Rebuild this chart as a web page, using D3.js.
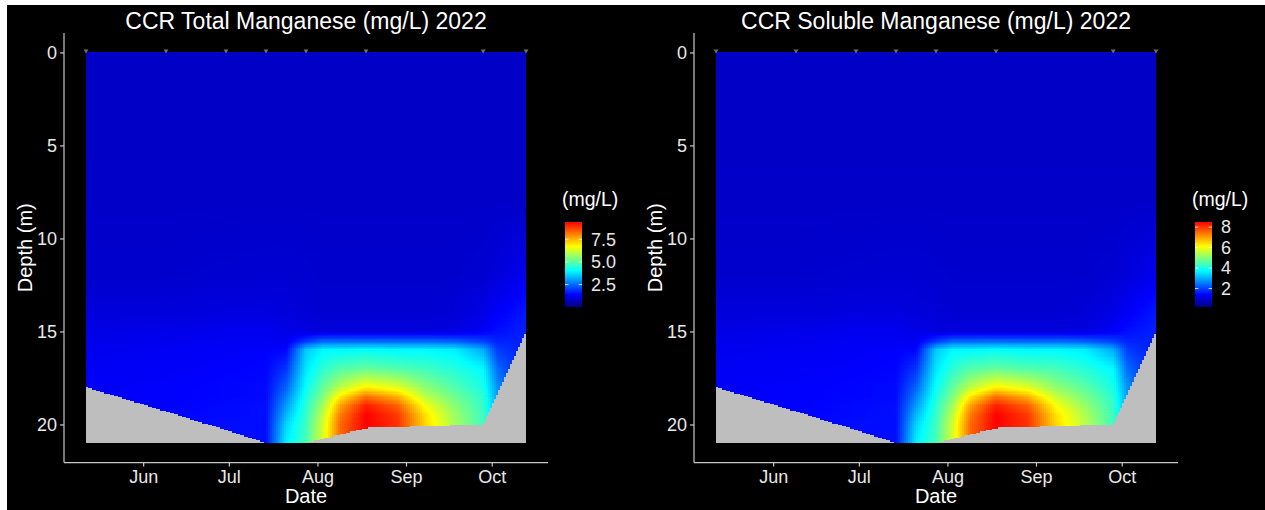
<!DOCTYPE html>
<html><head><meta charset="utf-8">
<script src="https://cdn.jsdelivr.net/npm/d3@7"></script>
<style>
html,body{margin:0;padding:0;background:#000;}
svg{display:block;}
text{font-family:"Liberation Sans", Arial, Helvetica, sans-serif;}
</style></head><body>
<svg id="chart" width="1265" height="510"></svg>
<script>
// ---------- DATA ----------
// sampling dates (marked at the surface) and deepest sampled depth (m) on each
const sampleDates = ["2022-05-12","2022-06-09","2022-06-30","2022-07-14","2022-07-28","2022-08-18","2022-09-28","2022-10-13"];
const bottomDepth = [18, 19.3, 20.3, 21, 21, 20.2, 20, 15];
const monthTicks = ["2022-06-01","2022-07-01","2022-08-01","2022-09-01","2022-10-01"];
const depthTicks = [0, 5, 10, 15, 20];

const gridDates = ["2022-05-12","2022-06-09","2022-06-30","2022-07-14","2022-07-21","2022-07-28","2022-08-03","2022-08-09","2022-08-18","2022-08-29","2022-09-08","2022-09-18","2022-09-28","2022-10-03","2022-10-13"];
const gridDepths = [0, 4, 8, 12, 14, 15, 15.5, 16, 17, 18, 18.5, 19, 19.5, 20, 21];

// Total Mn (mg/L): rows = gridDepths, cols = gridDates
const totalMn = [
  [0.78,0.78,0.78,0.78,0.78,0.78,0.78,0.78,0.78,0.78,0.78,0.78,0.78,0.78,0.78],
  [0.78,0.78,0.78,0.78,0.78,0.78,0.78,0.78,0.78,0.78,0.78,0.78,0.78,0.78,0.78],
  [0.80,0.80,0.80,0.80,0.80,0.80,0.80,0.80,0.80,0.80,0.80,0.80,0.80,0.80,0.80],
  [0.85,0.85,0.88,0.90,0.90,0.88,0.85,0.85,0.85,0.85,0.85,0.85,0.90,1.00,1.20],
  [1.00,1.00,1.05,1.05,1.00,0.95,0.90,0.90,0.90,0.90,0.90,0.95,1.10,1.30,1.60],
  [1.10,1.15,1.20,1.20,1.15,1.05,1.00,1.00,1.00,1.00,1.00,1.05,1.30,1.50,1.70],
  [1.15,1.20,1.25,1.25,1.20,1.90,2.40,2.40,2.40,2.40,2.40,2.30,2.00,1.70,1.70],
  [1.20,1.25,1.30,1.35,1.40,3.50,4.00,4.00,4.10,4.00,4.00,3.90,3.20,2.00,1.60],
  [1.25,1.30,1.35,1.40,1.90,3.80,4.50,4.90,5.10,4.90,4.70,4.40,4.00,2.50,1.50],
  [1.30,1.35,1.40,1.45,2.40,4.10,5.10,6.00,6.80,6.40,5.50,4.90,4.30,2.90,1.50],
  [1.30,1.35,1.40,1.45,2.70,4.30,5.40,6.90,8.20,7.50,6.00,5.20,4.50,3.00,1.50],
  [1.30,1.35,1.45,1.50,3.00,4.50,5.80,7.70,9.10,8.40,6.60,5.50,4.60,3.10,1.50],
  [1.30,1.40,1.45,1.50,3.30,4.60,6.10,8.10,9.40,8.80,7.00,5.70,4.70,3.10,1.50],
  [1.30,1.40,1.50,1.50,3.60,4.70,6.30,8.30,9.40,8.90,7.10,5.80,4.70,3.10,1.50],
  [1.30,1.40,1.50,1.50,3.90,4.80,6.40,8.30,9.40,8.90,7.10,5.80,4.70,3.10,1.50]
];
const totalLimits = [0.03, 9.4];
const totalTicks = [2.5, 5.0, 7.5];

// Soluble Mn (mg/L)
const solubleMn = [
  [0.86,0.86,0.86,0.86,0.86,0.86,0.86,0.86,0.86,0.86,0.86,0.86,0.86,0.86,0.86],
  [0.86,0.86,0.86,0.86,0.86,0.86,0.86,0.86,0.86,0.86,0.86,0.86,0.86,0.86,0.86],
  [0.88,0.88,0.88,0.88,0.88,0.88,0.88,0.88,0.88,0.88,0.88,0.88,0.88,0.88,0.88],
  [0.93,0.93,0.95,0.97,0.97,0.95,0.93,0.93,0.93,0.93,0.93,0.93,0.97,1.06,1.24],
  [1.06,1.06,1.10,1.10,1.06,1.02,0.97,0.97,0.97,0.97,0.97,1.02,1.15,1.32,1.59],
  [1.15,1.19,1.24,1.24,1.19,1.10,1.06,1.06,1.06,1.06,1.06,1.10,1.32,1.50,1.68],
  [1.19,1.24,1.28,1.28,1.24,1.86,2.30,2.30,2.30,2.30,2.30,2.21,1.95,1.68,1.68],
  [1.24,1.28,1.32,1.37,1.41,3.27,3.72,3.72,3.81,3.72,3.72,3.63,3.01,1.95,1.59],
  [1.28,1.32,1.37,1.41,1.86,3.54,4.16,4.51,4.69,4.51,4.40,4.10,3.72,2.39,1.50],
  [1.32,1.37,1.41,1.46,2.30,3.81,4.69,5.49,6.20,5.84,5.10,4.60,3.98,2.74,1.50],
  [1.32,1.37,1.41,1.46,2.57,3.98,4.96,6.29,7.44,6.82,5.60,4.90,4.16,2.83,1.50],
  [1.32,1.37,1.46,1.50,2.83,4.16,5.31,7.00,8.23,7.62,6.10,5.20,4.25,2.92,1.50],
  [1.32,1.41,1.46,1.50,3.10,4.25,5.58,7.35,8.50,7.97,6.40,5.40,4.34,2.92,1.50],
  [1.32,1.41,1.50,1.50,3.36,4.34,5.75,7.53,8.50,8.06,6.50,5.50,4.34,2.92,1.50],
  [1.32,1.41,1.50,1.50,3.63,4.43,5.84,7.53,8.50,8.06,6.50,5.50,4.34,2.92,1.50]
];
const solubleLimits = [0.2, 8.5];
const solubleTicks = [2, 4, 6, 8];

const jetColors = ["#00007F","#0000FF","#007FFF","#00FFFF","#7FFF7F","#FFFF00","#FF7F00","#FF0000"];
const naColor = "#BEBEBE";

// ---------- DRAW ----------
const parse = d3.timeParse("%Y-%m-%d");
const dates = sampleDates.map(parse);
const dateMs = dates.map(d => +d);
const gridMs = gridDates.map(s => +parse(s));
const svg = d3.select("#chart");
svg.append("rect").attr("width",1265).attr("height",510).attr("fill","#000");
svg.append("rect").attr("x",0).attr("y",0).attr("width",1265).attr("height",5).attr("fill","#fff");
svg.append("rect").attr("x",0).attr("y",0).attr("width",7).attr("height",510).attr("fill","#fff");

function locate(arr, v) {
  let i = d3.bisectRight(arr, v) - 1;
  i = Math.max(0, Math.min(arr.length - 2, i));
  const f = Math.max(0, Math.min(1, (v - arr[i]) / (arr[i+1] - arr[i])));
  return [i, f];
}
function bilinear(t, d, grid) {
  const [i, fx] = locate(gridMs, t);
  const [j, fy] = locate(gridDepths, d);
  const a = grid[j][i]*(1-fx) + grid[j][i+1]*fx;
  const b = grid[j+1][i]*(1-fx) + grid[j+1][i+1]*fx;
  return a*(1-fy) + b*fy;
}
function bottomAt(t) {
  const [i, f] = locate(dateMs, t);
  return bottomDepth[i]*(1-f) + bottomDepth[i+1]*f;
}

function drawPanel(off, title, grid, limits, ticks, fmt) {
  const g = svg.append("g").attr("transform", `translate(${off},0)`);
  const t0 = dateMs[0], t1 = dateMs[dateMs.length-1], span = t1 - t0;
  const x = d3.scaleTime().domain([new Date(t0 - 0.05*span), new Date(t1 + 0.05*span)]).range([64, 548]);
  const dMax = d3.max(gridDepths);
  const y = d3.scaleLinear().domain([-0.05*dMax, dMax*1.05]).range([32.9, 462.6]);
  const stops = jetColors.map((c,k) => limits[0] + k*(limits[1]-limits[0])/(jetColors.length-1));
  const color = d3.scaleLinear().domain(stops).range(jetColors).interpolate(d3.interpolateRgb).clamp(true);

  // raster (vertical runs of equal colour merged)
  const nx = 220, ny = 300;
  const dt = span / nx, dd = dMax / ny;
  const runs = [];
  for (let i = 0; i < nx; i++) {
    const tc = t0 + (i + 0.5)*dt;
    const bot = bottomAt(tc);
    let start = 0, fill = null;
    for (let j = 0; j <= ny; j++) {
      let f = null;
      if (j < ny) {
        const dc = (j + 0.5)*dd;
        f = dc > bot ? naColor : color(bilinear(tc, dc, grid));
      }
      if (f !== fill) {
        if (fill !== null) runs.push({i, j0: start, j1: j, fill});
        start = j; fill = f;
      }
    }
  }
  g.append("g").selectAll("rect").data(runs).join("rect")
    .attr("x", c => x(new Date(t0 + c.i*dt)))
    .attr("y", c => y(c.j0*dd))
    .attr("width", c => x(new Date(t0 + (c.i+1)*dt)) - x(new Date(t0 + c.i*dt)) + 0.35)
    .attr("height", c => y(c.j1*dd) - y(c.j0*dd) + 0.35)
    .attr("fill", c => c.fill)
    .attr("shape-rendering","crispEdges");

  // sample markers at surface
  g.append("g").selectAll("path").data(dates).join("path")
    .attr("d", d => { const px = x(d), py = y(0); return `M${px-2.5},${py-3}L${px+2.5},${py-3}L${px},${py+1}Z`; })
    .attr("fill", "#6E6E6E");

  // axes
  const axisColor = "#C8C8C8", textColor = "#E8E8E8";
  const xAxis = g.append("g").attr("transform", `translate(0,${y.range()[1]})`)
    .call(d3.axisBottom(x).tickValues(monthTicks.map(parse)).tickFormat(d3.timeFormat("%b")).tickSize(4).tickPadding(4));
  const yAxis = g.append("g").attr("transform", `translate(${x.range()[0]},0)`)
    .call(d3.axisLeft(y).tickValues(depthTicks).tickSize(4).tickPadding(3));
  [xAxis, yAxis].forEach(a => {
    a.select(".domain").attr("stroke", axisColor).attr("stroke-width", 1.2);
    a.selectAll(".tick line").attr("stroke", axisColor).attr("stroke-width", 1.2);
    a.selectAll(".tick text").attr("fill", textColor).attr("font-size", 18)
      .style("font-family", '"Liberation Sans", Arial, sans-serif');
  });
  xAxis.select(".domain").attr("d", `M${x.range()[0]},0H${x.range()[1]}`);
  yAxis.select(".domain").attr("d", `M0,${y.range()[0]}V${y.range()[1]}`);

  // titles
  g.append("text").attr("x", (x.range()[0]+x.range()[1])/2).attr("y", 29)
    .attr("text-anchor","middle").attr("fill","#FFFFFF").attr("font-size", 23).text(title);
  g.append("text").attr("x", (x.range()[0]+x.range()[1])/2).attr("y", 503)
    .attr("text-anchor","middle").attr("fill","#FFFFFF").attr("font-size", 20).text("Date");
  g.append("text").attr("transform", `translate(32,${(y.range()[0]+y.range()[1])/2}) rotate(-90)`)
    .attr("text-anchor","middle").attr("fill","#FFFFFF").attr("font-size", 20).text("Depth (m)");

  // legend
  const lx = 565, lw = 17;
  const ly = d3.scaleLinear().domain(limits).range([307, 222]);
  const nb = 85;
  const bins = d3.range(nb).map(k => limits[0] + (k + 0.5)*(limits[1]-limits[0])/nb);
  g.append("g").selectAll("rect").data(bins).join("rect")
    .attr("x", lx).attr("width", lw)
    .attr("y", (v,k) => ly(limits[0] + (k+1)*(limits[1]-limits[0])/nb))
    .attr("height", (v,k) => ly(limits[0] + k*(limits[1]-limits[0])/nb) - ly(limits[0] + (k+1)*(limits[1]-limits[0])/nb) + 0.4)
    .attr("fill", v => color(v)).attr("shape-rendering","crispEdges");
  const tg = g.append("g");
  ticks.forEach(tv => {
    tg.append("line").attr("x1", lx).attr("x2", lx+3.4).attr("y1", ly(tv)).attr("y2", ly(tv)).attr("stroke","#fff").attr("stroke-width",0.8);
    tg.append("line").attr("x1", lx+lw-3.4).attr("x2", lx+lw).attr("y1", ly(tv)).attr("y2", ly(tv)).attr("stroke","#fff").attr("stroke-width",0.8);
    tg.append("text").attr("x", lx+lw+9).attr("y", ly(tv)).attr("dy","0.35em")
      .attr("fill", textColor).attr("font-size", 18).text(fmt(tv));
  });
  g.append("text").attr("x", 562).attr("y", 206).attr("fill","#FFFFFF").attr("font-size", 19.5).text("(mg/L)");
}

drawPanel(0, "CCR Total Manganese (mg/L) 2022", totalMn, totalLimits, totalTicks, d3.format(".1f"));
drawPanel(630, "CCR Soluble Manganese (mg/L) 2022", solubleMn, solubleLimits, solubleTicks, d3.format("d"));
</script>
</body></html>
